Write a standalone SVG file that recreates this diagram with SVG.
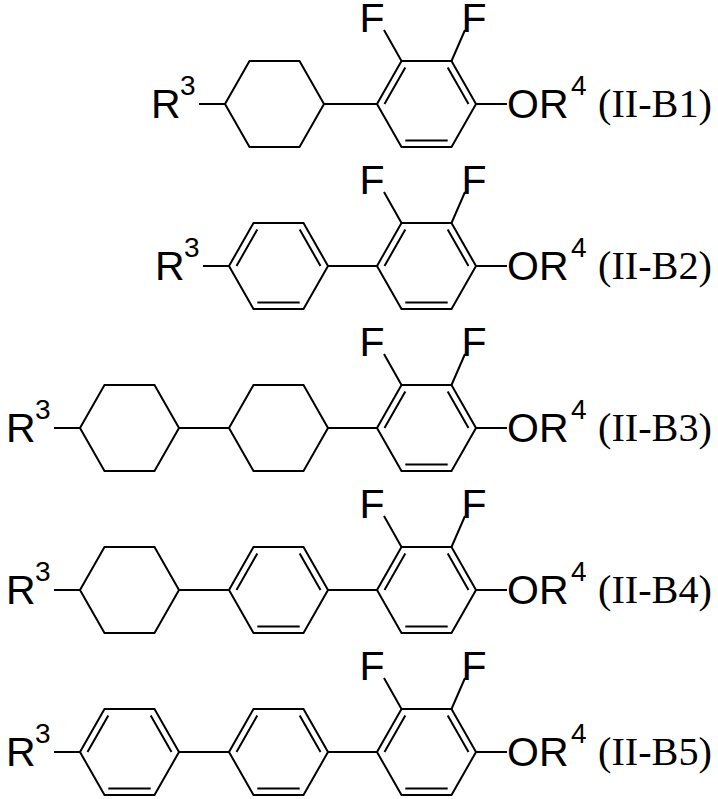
<svg xmlns="http://www.w3.org/2000/svg" xmlns:xlink="http://www.w3.org/1999/xlink" width="718" height="799" viewBox="0 0 718 799">
<style>
.b{stroke:#000;stroke-width:2;fill:none}
.t{font-family:"Liberation Sans",Arial,sans-serif;font-size:41px;fill:#000}
.s{font-family:"Liberation Sans",Arial,sans-serif;font-size:28px;fill:#000}
.l{font-family:"Liberation Serif","Times New Roman",serif;font-size:40px;fill:#000}
</style>
<defs>
<g id="cy"><polygon class="b" points="-49.5,0 -25,-43 25,-43 49.5,0 25,43 -25,43"/></g>
<g id="bz"><polygon class="b" points="-49.5,0 -25,-43 25,-43 49.5,0 25,43 -25,43"/>
<path class="b" d="M-42,0L-21.2,-36.5M21.2,-36.5L42,0M21.2,36.5L-21.2,36.5"/></g>
<g id="tail">
<use xlink:href="#bz" x="426.5"/>
<path class="b" d="M401.5,-43L384,-74M451.5,-43L465,-74M476,0L507,0"/>
<text class="t" x="372" y="-72" text-anchor="middle">F</text>
<text class="t" x="474" y="-72" text-anchor="middle">F</text>
<text class="t" x="507" y="14">OR</text>
<text class="s" x="571" y="-9">4</text>
</g>
</defs>
<g id="II-B1" transform="translate(0,104)">
<use xlink:href="#tail"/>
<use xlink:href="#cy" x="274.5"/>
<path class="b" d="M199,0L225,0M324,0L377,0"/>
<text class="t" x="151" y="14">R</text><text class="s" x="180" y="-9">3</text>
<text class="l" x="598" y="13" textLength="114" lengthAdjust="spacingAndGlyphs">(II-B1)</text>
</g>
<g id="II-B2" transform="translate(0,266)">
<use xlink:href="#tail"/>
<use xlink:href="#bz" x="278.5"/>
<path class="b" d="M203,0L229,0M328,0L377,0"/>
<text class="t" x="155" y="14">R</text><text class="s" x="184" y="-9">3</text>
<text class="l" x="598" y="13" textLength="114" lengthAdjust="spacingAndGlyphs">(II-B2)</text>
</g>
<g id="II-B3" transform="translate(0,428)">
<use xlink:href="#tail"/>
<use xlink:href="#cy" x="278.5"/>
<use xlink:href="#cy" x="129.5"/>
<path class="b" d="M54,0L80,0M179,0L229,0M328,0L377,0"/>
<text class="t" x="6" y="14">R</text><text class="s" x="35" y="-9">3</text>
<text class="l" x="598" y="13" textLength="114" lengthAdjust="spacingAndGlyphs">(II-B3)</text>
</g>
<g id="II-B4" transform="translate(0,590)">
<use xlink:href="#tail"/>
<use xlink:href="#bz" x="278.5"/>
<use xlink:href="#cy" x="129.5"/>
<path class="b" d="M54,0L80,0M179,0L229,0M328,0L377,0"/>
<text class="t" x="6" y="14">R</text><text class="s" x="35" y="-9">3</text>
<text class="l" x="598" y="13" textLength="114" lengthAdjust="spacingAndGlyphs">(II-B4)</text>
</g>
<g id="II-B5" transform="translate(0,752)">
<use xlink:href="#tail"/>
<use xlink:href="#bz" x="278.5"/>
<use xlink:href="#bz" x="129.5"/>
<path class="b" d="M54,0L80,0M179,0L229,0M328,0L377,0"/>
<text class="t" x="6" y="14">R</text><text class="s" x="35" y="-9">3</text>
<text class="l" x="598" y="13" textLength="114" lengthAdjust="spacingAndGlyphs">(II-B5)</text>
</g>
<g id="connectors"/>
</svg>
